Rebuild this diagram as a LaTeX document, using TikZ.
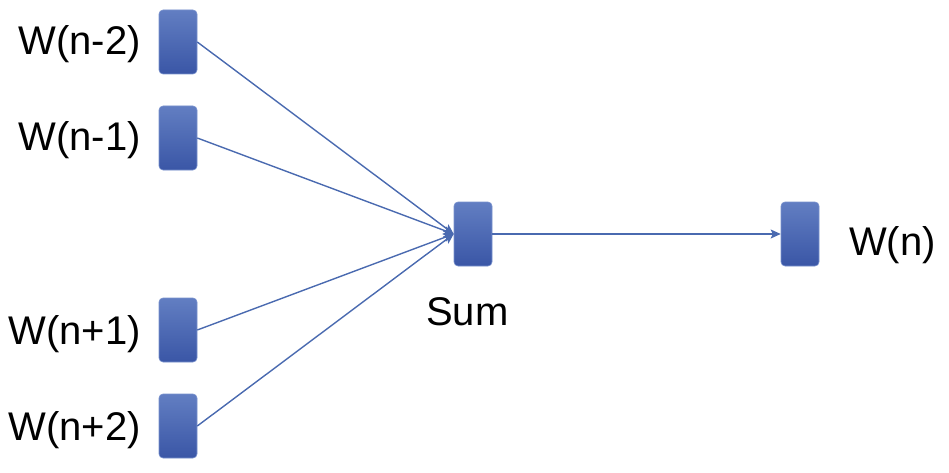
\documentclass[tikz,border=0pt]{standalone}
\usepackage{fontspec}
\setmainfont{Liberation Sans}
\usetikzlibrary{arrows.meta}
\definecolor{boxtop}{RGB}{98,126,194}
\definecolor{boxbot}{RGB}{58,86,166}
\definecolor{boxedge}{RGB}{120,145,205}
\definecolor{wire}{RGB}{74,106,176}
\begin{document}
\begin{tikzpicture}[x=1pt,y=-1pt,
  unit/.style={rectangle, rounded corners=4pt, minimum width=38pt, minimum height=64pt,
    inner sep=0pt, top color=boxtop, bottom color=boxbot, draw=boxedge, line width=0.6pt},
  lbl/.style={inner sep=0pt, font=\fontsize{40}{48}\selectfont},
  wirearrow/.style={draw=wire, line width=1.4pt, -{Stealth[length=10pt,width=9pt,inset=2pt]}}]
\useasboundingbox (0,0) rectangle (949,473);
\node[unit] (b1) at (178,42) {};
\node[unit] (b2) at (178,138) {};
\node[unit] (b3) at (178,330) {};
\node[unit] (b4) at (178,426) {};
\node[unit] (sum) at (473,234) {};
\node[unit] (out) at (800,234) {};
\node[lbl, anchor=base east] (t1) at (141,55) {W(n-2)};
\node[lbl, anchor=base east] (t2) at (141,150) {W(n-1)};
\node[lbl, anchor=base east] (t3) at (141,344) {W(n+1)};
\node[lbl, anchor=base east] (t4) at (141,440) {W(n+2)};
\node[lbl, anchor=base west] (ts) at (426,325) {Sum};
\node[lbl, anchor=base west] (to) at (849,255) {W(n)};
\draw[wirearrow] (b1.east) -- (sum.west);
\draw[wirearrow] (b2.east) -- (sum.west);
\draw[wirearrow] (b3.east) -- (sum.west);
\draw[wirearrow] (b4.east) -- (sum.west);
\draw[wirearrow] (sum.east) -- (out.west);
\end{tikzpicture}
\end{document}
